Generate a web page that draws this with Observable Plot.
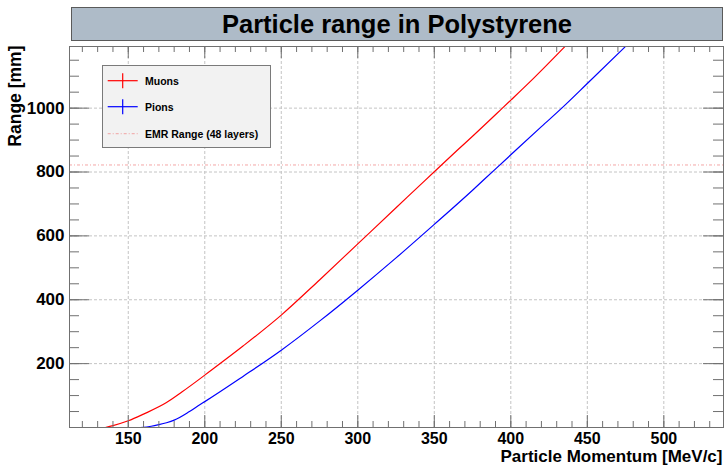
<!DOCTYPE html>
<html>
<head>
<meta charset="utf-8">
<script src="https://cdn.jsdelivr.net/npm/d3@7"></script>
<script src="https://cdn.jsdelivr.net/npm/@observablehq/plot@0.6"></script>
<style>
  body { margin: 0; background: #fff; font-family: "Liberation Sans", Arial, sans-serif; }
  #wrap { position: relative; width: 726px; height: 466px; overflow: hidden; }
  #wrap > svg { position: absolute; left: 0; top: 0; }
  #title {
    position: absolute; left: 71px; top: 7px; width: 650px; height: 32px;
    background: #aebbc8; border: 1px solid #5a5a5a;
    font-weight: bold; font-size: 25.5px; text-align: center; line-height: 33px; color: #000;
    z-index: 2;
  }
</style>
</head>
<body>
<div id="wrap"><div id="title">Particle range in Polystyrene</div></div>
<script>
// ---- data ----
const titleText = "Particle range in Polystyrene";
const xLabel = "Particle Momentum [MeV/c]";
const yLabel = "Range [mm]";

const muonMomentum = [135, 140, 150, 160, 175, 185, 195, 200, 225, 250, 275, 300, 325, 344, 350, 365, 375, 394.5, 400, 415, 435];
const muonRange    = [0,   6,   21,  42,  78,  111, 146, 164, 255, 352, 462, 575, 688, 774, 801, 868, 912, 1000,  1025, 1094, 1191];

const pionMomentum = [157.8, 165, 170, 175, 180, 190, 197, 200, 225, 250, 275, 300, 325, 350, 375, 382, 403.2, 420, 433.3, 450, 474.5];
const pionRange    = [0,     4,   9,   15,  23,  50,  72,  81,  160, 242, 333, 430, 531, 636, 743, 774, 868,   942, 1000,  1077, 1191];

const emrRange = 822;

const seriesNames  = ["Muons", "Pions", "EMR Range (48 layers)"];
const seriesColors = ["#ff0000", "#0000ff", "#f08a8a"];

const xTicks = [150, 200, 250, 300, 350, 400, 450, 500];
const yTicks = [200, 400, 600, 800, 1000];
const xMinorTicks = d3.range(120, 540, 10);
const yMinorTicks = d3.range(50, 1200, 50);

// ---- layout ----
const W = 726, H = 466, mt = 46, mb = 39, ml = 69, mr = 3;
const xDomain = [111.6, 539], yDomain = [0, 1193];
const ux = (xDomain[1] - xDomain[0]) / (W - ml - mr);
const uy = (yDomain[1] - yDomain[0]) / (H - mt - mb);
const axisColor = "#707070";
const gridColor = "#c4c4c4";
const font = '"Liberation Sans", Arial, sans-serif';

const muon = muonMomentum.map((p, i) => ({p, r: muonRange[i]}));
const pion = pionMomentum.map((p, i) => ({p, r: pionRange[i]}));

const plot = Plot.plot({
  width: W, height: H,
  marginTop: mt, marginBottom: mb, marginLeft: ml, marginRight: mr,
  x: {domain: xDomain, axis: null},
  y: {domain: yDomain, axis: null},
  style: {fontFamily: font, background: "transparent", overflow: "visible"},
  marks: [
    // grid
    Plot.ruleX(xTicks, {x: d => d, stroke: gridColor, strokeDasharray: "3,2"}),
    Plot.ruleY(yTicks, {y: d => d, stroke: gridColor, strokeDasharray: "3,2"}),
    // EMR range
    Plot.ruleY([emrRange], {y: d => d, stroke: seriesColors[2], strokeOpacity: 0.75, strokeDasharray: "3,2,1,2"}),
    // curves
    Plot.line(muon, {x: "p", y: "r", stroke: seriesColors[0], strokeWidth: 1.2, curve: "monotone-x"}),
    Plot.line(pion, {x: "p", y: "r", stroke: seriesColors[1], strokeWidth: 1.2, curve: "monotone-x"}),
    // ticks bottom/top
    Plot.ruleX(xMinorTicks, {x: d => d, y1: yDomain[0], y2: yDomain[0] + 6 * uy, stroke: axisColor}),
    Plot.ruleX(xTicks, {x: d => d, y1: yDomain[0], y2: yDomain[0] + 12 * uy, stroke: axisColor}),
    Plot.ruleX(xMinorTicks, {x: d => d, y1: yDomain[1], y2: yDomain[1] - 6 * uy, stroke: axisColor}),
    Plot.ruleX(xTicks, {x: d => d, y1: yDomain[1], y2: yDomain[1] - 12 * uy, stroke: axisColor}),
    // ticks left/right
    Plot.ruleY(yMinorTicks, {y: d => d, x1: xDomain[0], x2: xDomain[0] + 10 * ux, stroke: axisColor}),
    Plot.ruleY(yTicks, {y: d => d, x1: xDomain[0], x2: xDomain[0] + 20 * ux, stroke: axisColor}),
    Plot.ruleY(yMinorTicks, {y: d => d, x1: xDomain[1], x2: xDomain[1] - 10 * ux, stroke: axisColor}),
    Plot.ruleY(yTicks, {y: d => d, x1: xDomain[1], x2: xDomain[1] - 20 * ux, stroke: axisColor}),
    Plot.frame({stroke: axisColor}),
    // tick labels
    Plot.text(xTicks, {x: d => d, y: yDomain[0], dy: 5.5, lineAnchor: "top", text: d => String(d),
      fontSize: 16, fontWeight: "bold", fill: "#000"}),
    Plot.text(yTicks, {x: xDomain[0], y: d => d, dx: -5, textAnchor: "end", lineAnchor: "middle", text: d => String(d),
      fontSize: 17, fontWeight: "bold", fill: "#000"}),
    // axis titles
    Plot.text([xLabel], {frameAnchor: "bottom-right", dx: -1, dy: 34.5, textAnchor: "end", lineAnchor: "bottom",
      fontSize: 17, fontWeight: "bold", fill: "#000"}),
    Plot.text([yLabel], {frameAnchor: "top-left", dx: -49, dy: -1, rotate: -90, textAnchor: "end", lineAnchor: "bottom",
      fontSize: 17.5, fontWeight: "bold", fill: "#000"})
  ]
});
document.getElementById("wrap").appendChild(plot);
document.getElementById("title").textContent = titleText;

// ---- legend ----
const leg = d3.select("#wrap").append("svg")
  .attr("width", W).attr("height", H)
  .style("position", "absolute").style("left", 0).style("top", 0)
  .style("pointer-events", "none");
leg.append("rect").attr("x", 102.5).attr("y", 65.5).attr("width", 168).attr("height", 82)
  .attr("fill", "#f2f2f2").attr("stroke", "#7a7a7a");
const rowY = [80.7, 106.7, 133.7];
seriesNames.forEach((name, i) => {
  const g = leg.append("g");
  const y = rowY[i];
  if (i < 2) {
    g.append("line").attr("x1", 107.7).attr("x2", 137.7).attr("y1", y).attr("y2", y)
      .attr("stroke", seriesColors[i]).attr("stroke-width", 1.2);
    g.append("line").attr("x1", 122.7).attr("x2", 122.7).attr("y1", y - 7.5).attr("y2", y + 7.5)
      .attr("stroke", seriesColors[i]).attr("stroke-width", 1.2);
  } else {
    g.append("line").attr("x1", 107.7).attr("x2", 137.7).attr("y1", y).attr("y2", y)
      .attr("stroke", seriesColors[i]).attr("stroke-opacity", 0.75).attr("stroke-dasharray", "3,2,1,2");
  }
  g.append("text").attr("x", 145).attr("y", y + 3.8)
    .attr("font-family", font).attr("font-weight", "bold").attr("font-size", 10.5)
    .attr("fill", "#000").text(name);
});
</script>
</body>
</html>
